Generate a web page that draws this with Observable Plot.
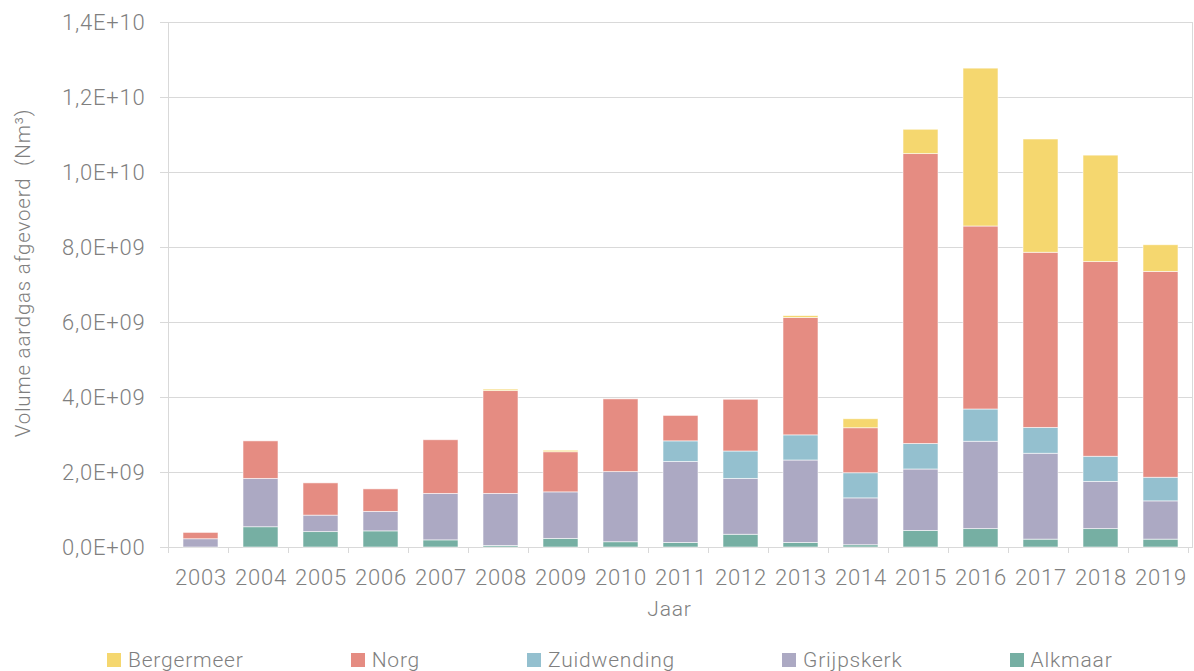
<!DOCTYPE html>
<html>
<head>
<meta charset="utf-8">
<script src="https://cdn.jsdelivr.net/npm/d3@7"></script>
<script src="https://cdn.jsdelivr.net/npm/@observablehq/plot@0.6"></script>
<style>
  html, body { margin: 0; padding: 0; background: #ffffff; }
  #chart { width: 1194px; height: 671px; position: relative; font-family: Roboto, "Liberation Sans", Arial, sans-serif; font-weight: 300; color: #7f7f7f; }
  .legend { display: flex; align-items: center; padding-left: 107px; margin-top: 18px; font-size: 21px; letter-spacing: 0.8px; line-height: 24px; }
  .legend .item { display: flex; align-items: center; margin-right: 107px; }
  .legend .swatch { width: 14px; height: 14px; margin-right: 7px; }
</style>
</head>
<body>
<div id="chart"></div>
<script>
// Jaarlijks afgevoerd volume aardgas per gasopslag (Nm³)
const years = ["2003","2004","2005","2006","2007","2008","2009","2010","2011","2012","2013","2014","2015","2016","2017","2018","2019"];

// volumes in miljarden Nm³ (×1E+09)
const alkmaar     = [0.00, 0.54, 0.41, 0.43, 0.19, 0.04, 0.23, 0.14, 0.12, 0.34, 0.12, 0.06, 0.44, 0.49, 0.21, 0.49, 0.21];
const grijpskerk  = [0.22, 1.29, 0.44, 0.52, 1.24, 1.39, 1.24, 1.87, 2.16, 1.49, 2.20, 1.25, 1.64, 2.33, 2.29, 1.26, 1.02];
const zuidwending = [0.00, 0.00, 0.00, 0.00, 0.00, 0.00, 0.00, 0.00, 0.55, 0.73, 0.67, 0.67, 0.68, 0.86, 0.69, 0.67, 0.63];
const norg        = [0.17, 1.00, 0.86, 0.60, 1.43, 2.74, 1.07, 1.94, 0.68, 1.38, 3.13, 1.20, 7.73, 4.88, 4.67, 5.19, 5.49];
const bergermeer  = [0.00, 0.00, 0.00, 0.00, 0.00, 0.04, 0.04, 0.00, 0.00, 0.00, 0.05, 0.24, 0.65, 4.21, 3.02, 2.84, 0.71];

// stack order, bottom to top
const sites  = ["Alkmaar", "Grijpskerk", "Zuidwending", "Norg", "Bergermeer"];
const series = [alkmaar, grijpskerk, zuidwending, norg, bergermeer];
const colors = ["#76afa3", "#aca9c3", "#94c0cf", "#e58c82", "#f5d76f"];

// legend order, left to right
const legendSites = ["Bergermeer", "Norg", "Zuidwending", "Grijpskerk", "Alkmaar"];

const yTicks = [0, 2e9, 4e9, 6e9, 8e9, 1e10, 1.2e10, 1.4e10];
const yTitle = "Volume aardgas afgevoerd  (Nm³)";
const xTitle = "Jaar";

const rows = [];
sites.forEach((site, s) => {
  years.forEach((year, i) => {
    const v = series[s][i];
    if (v > 0) rows.push({year, site, value: v * 1e9});
  });
});

// scientific notation with decimal comma, e.g. 1,4E+10
function sci(d) {
  if (d === 0) return "0,0E+00";
  const e = Math.floor(Math.log10(d) + 1e-9);
  const m = d / Math.pow(10, e);
  return m.toFixed(1).replace(".", ",") + "E+" + String(e).padStart(2, "0");
}

// small tick marks between the year categories, below the baseline
function categoryTicks(index, scales, values, dims) {
  const x = scales.x;
  const step = x(years[1]) - x(years[0]);
  const y0 = dims.height - dims.marginBottom;
  const g = d3.create("svg:g").attr("stroke", "#d9d9d9").attr("stroke-width", 1);
  for (let i = 0; i <= years.length; i++) {
    const bx = Math.round(dims.marginLeft + i * step) + 0.5;
    g.append("line").attr("x1", bx).attr("x2", bx).attr("y1", y0).attr("y2", y0 + 6);
  }
  return g.node();
}

const plot = Plot.plot({
  width: 1194,
  height: 630,
  marginTop: 22,
  marginBottom: 83,
  marginLeft: 168,
  marginRight: 2,
  style: {fontFamily: "Roboto, 'Liberation Sans', Arial, sans-serif", fontWeight: 300, fontSize: "22px", color: "#7f7f7f", background: "#ffffff", letterSpacing: "0.8px"},
  x: {domain: years, paddingInner: 0.42, paddingOuter: 0.21, label: null},
  y: {domain: [0, 1.4e10], label: null},
  color: {domain: sites, range: colors},
  marks: [
    Plot.gridY(yTicks, {stroke: "#d9d9d9", strokeOpacity: 1}),
    Plot.frame({stroke: "#d9d9d9"}),
    Plot.axisY(yTicks, {tickSize: 8, tickPadding: 15, tickFormat: sci, stroke: "#d9d9d9", label: null}),
    Plot.axisX({tickSize: 0, tickPadding: 22, label: null}),
    categoryTicks,
    Plot.barY(rows, {x: "year", y: "value", fill: "site", order: sites, stroke: "#ffffff", strokeOpacity: 0.7, strokeWidth: 0.8}),
    Plot.text([yTitle], {text: d => d, frameAnchor: "left", textAnchor: "middle", rotate: -90, dx: -145, dy: -12, fontSize: 20.5, fill: "#7f7f7f"}),
    Plot.text([xTitle], {text: d => d, frameAnchor: "bottom", textAnchor: "middle", dx: -11, dy: 68, fontSize: 21, fill: "#7f7f7f"})
  ]
});

const chart = document.getElementById("chart");
chart.appendChild(plot);

const legend = document.createElement("div");
legend.className = "legend";
legendSites.forEach(site => {
  const item = document.createElement("div");
  item.className = "item";
  const sw = document.createElement("div");
  sw.className = "swatch";
  sw.style.background = colors[sites.indexOf(site)];
  const label = document.createElement("span");
  label.textContent = site;
  item.appendChild(sw);
  item.appendChild(label);
  legend.appendChild(item);
});
chart.appendChild(legend);
</script>
</body>
</html>
